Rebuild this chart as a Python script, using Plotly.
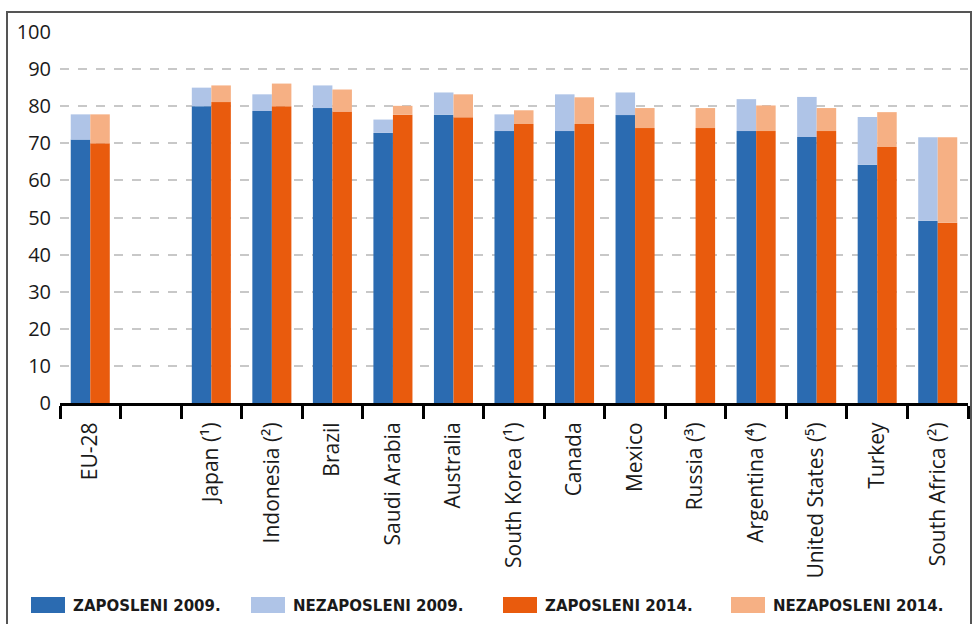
import plotly.graph_objects as go

categories = ["EU-28", " ", "Japan (¹)", "Indonesia (²)", "Brazil", "Saudi Arabia", "Australia",
              "South Korea (¹)", "Canada", "Mexico", "Russia (³)", "Argentina (⁴)",
              "United States (⁵)", "Turkey", "South Africa (²)"]
employed_2009 = [71.0, None, 80.0, 78.7, 79.5, 72.8, 77.7, 73.3, 73.3, 77.6, None, 73.3, 71.7, 64.2, 49.1]
unemployed_2009 = [6.8, None, 5.0, 4.5, 6.1, 3.6, 6.0, 4.5, 9.9, 6.1, None, 8.6, 10.8, 12.9, 22.5]
employed_2014 = [70.0, None, 81.1, 80.0, 78.6, 77.7, 77.0, 75.2, 75.2, 74.1, 74.1, 73.3, 73.3, 69.0, 48.6]
unemployed_2014 = [7.8, None, 4.5, 6.1, 5.9, 2.4, 6.2, 3.7, 7.2, 5.4, 5.4, 6.9, 6.2, 9.4, 23.0]
y_ticks = [0, 10, 20, 30, 40, 50, 60, 70, 80, 90, 100]
legend_names = ["ZAPOSLENI 2009.", "NEZAPOSLENI 2009.", "ZAPOSLENI 2014.", "NEZAPOSLENI 2014."]

C_BLUE = "#2B6BB1"
C_LBLUE = "#AFC4E7"
C_ORANGE = "#E95B0D"
C_LORANGE = "#F6B084"
colors = [C_BLUE, C_LBLUE, C_ORANGE, C_LORANGE]

fig = go.Figure()
fig.add_trace(go.Bar(x=categories, y=employed_2009, offsetgroup="2009", marker_color=C_BLUE,
                     marker_line_width=0, name=legend_names[0]))
fig.add_trace(go.Bar(x=categories, y=unemployed_2009, base=employed_2009, offsetgroup="2009",
                     marker_color=C_LBLUE, marker_line_width=0, name=legend_names[1]))
fig.add_trace(go.Bar(x=categories, y=employed_2014, offsetgroup="2014", marker_color=C_ORANGE,
                     marker_line_width=0, name=legend_names[2]))
fig.add_trace(go.Bar(x=categories, y=unemployed_2014, base=employed_2014, offsetgroup="2014",
                     marker_color=C_LORANGE, marker_line_width=0, name=legend_names[3]))

W, H = 974, 624
L, R, T, B = 60, 6, 32, 221
pw, ph = W - L - R, H - T - B


def px_x(p):
    return (p - L) / pw


def px_y(p):
    return (H - B - p) / ph


shapes = []
annotations = []
# outer frame
shapes.append(dict(type="rect", xref="paper", yref="paper", x0=px_x(7), x1=px_x(971),
                   y0=px_y(12), y1=px_y(640), line=dict(color="#555555", width=2),
                   fillcolor="rgba(0,0,0,0)", layer="below"))
# custom legend
sw_x = [31, 251, 503, 731]
for i, name in enumerate(legend_names):
    shapes.append(dict(type="rect", xref="paper", yref="paper", x0=px_x(sw_x[i]), x1=px_x(sw_x[i] + 34),
                       y0=px_y(613), y1=px_y(597), line=dict(width=0), fillcolor=colors[i]))
    annotations.append(dict(xref="paper", yref="paper", x=px_x(sw_x[i] + 40), y=px_y(606),
                            text="<b>" + name + "</b>", showarrow=False, xanchor="left",
                            yanchor="middle", font=dict(family="DejaVu Sans", size=15, color="#1a1a1a")))

fig.update_layout(
    width=W, height=H,
    margin=dict(l=L, r=R, t=T, b=B),
    barmode="group", bargap=0.355, bargroupgap=0,
    showlegend=False,
    plot_bgcolor="white", paper_bgcolor="white",
    font=dict(family="Open Sans", color="#1a1a1a"),
    shapes=shapes, annotations=annotations,
    xaxis=dict(type="category", tickson="boundaries", ticks="outside", ticklen=13, tickwidth=3,
               tickcolor="black", showline=True, linecolor="black", linewidth=3,
               tickangle=-90, tickfont=dict(size=21, family="Open Sans", color="#1a1a1a"),
               ticklabelstandoff=8, showgrid=False, fixedrange=True),
    yaxis=dict(range=[0, 100], tickvals=y_ticks, showgrid=True, gridcolor="#c8c8c8",
               griddash="dash", gridwidth=1.5, zeroline=False, showline=False,
               tickfont=dict(size=20, family="Open Sans", color="#1a1a1a"), ticks="",
               ticklabelstandoff=8, fixedrange=True),
)

fig.write_html("out.html", config={"displayModeBar": False},
               post_script="document.body.style.margin='0px';document.body.style.padding='0px';")
